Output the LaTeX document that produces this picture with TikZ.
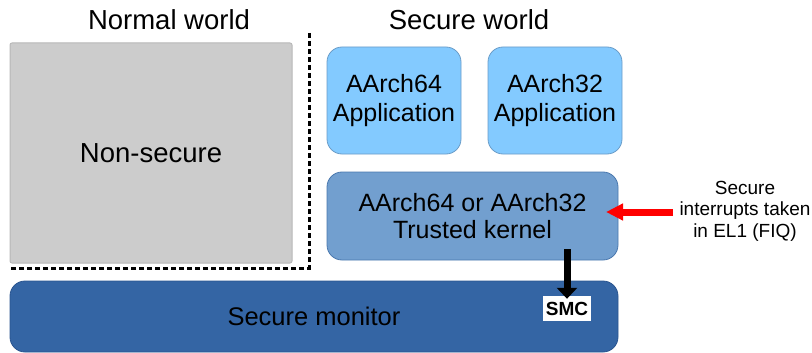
\documentclass[tikz,border=0pt]{standalone}
\usepackage{fontspec}
\setmainfont{Liberation Sans}
\usetikzlibrary{arrows.meta}
\definecolor{appblue}{HTML}{83CAFF}
\definecolor{appedge}{HTML}{6A9CC8}
\definecolor{kernblue}{HTML}{729FCF}
\definecolor{kernedge}{HTML}{4A78AE}
\definecolor{monblue}{HTML}{3465A4}
\definecolor{monedge}{HTML}{2A5590}
\definecolor{nsgray}{HTML}{CCCCCC}
\definecolor{nsedge}{HTML}{B8B8B8}
\tikzset{
  box/.style={rectangle, align=center, inner sep=0pt, text=black},
  appbox/.style={box, rounded corners=15pt, fill=appblue, draw=appedge, line width=0.8pt,
     minimum width=134pt, minimum height=107pt, font=\fontsize{25}{28.5}\selectfont},
  kernbox/.style={box, rounded corners=15pt, fill=kernblue, draw=kernedge, line width=0.8pt,
     minimum width=291pt, minimum height=88pt, font=\fontsize{25}{27.5}\selectfont},
  monbox/.style={box, rounded corners=15pt, fill=monblue, draw=monedge, line width=0.8pt,
     minimum width=608pt, minimum height=71pt, font=\fontsize{25.5}{28}\selectfont},
  nsbox/.style={box, rounded corners=2pt, fill=nsgray, draw=nsedge, line width=1pt,
     minimum width=282pt, minimum height=220pt, font=\fontsize{27.5}{32}\selectfont},
  title/.style={font=\fontsize{27.5}{32}\selectfont, inner sep=0pt},
  smcbox/.style={fill=white, inner sep=0pt, minimum width=48pt, minimum height=25pt,
     font=\fontsize{19}{22}\selectfont\bfseries},
  fiqtext/.style={align=center, inner sep=0pt, font=\fontsize{19}{21.5}\selectfont},
  worldline/.style={black, line width=3pt, dash pattern=on 5pt off 3pt},
}
\begin{document}
\begin{tikzpicture}[x=1pt,y=-1pt]
\useasboundingbox (0,0) rectangle (812,353);
% titles
\node[title] (nw) at (169,20) {Normal world};
\node[title] (sw) at (469,20) {Secure world};
% boxes
\node[nsbox] (ns) at (151,153) {Non-secure};
\node[appbox] (a64) at (394,100.5) {AArch64\\Application};
\node[appbox] (a32) at (555,100.5) {AArch32\\Application};
\node[kernbox] (kern) at (472.5,216) {AArch64 or AArch32\\Trusted kernel};
\node[monbox] (mon) at (314,316.5) {Secure monitor};
\node[smcbox] (smc) at (567,308.5) {SMC};
\node[fiqtext] (fiq) at (745,211) {Secure\\interrupts taken\\in EL1 (FIQ)};
% world separator
\coordinate (dtop) at (309,33);
\coordinate (dcorner) at (309,268);
\coordinate (dleft) at (10,268);
\draw[worldline] (dtop) -- (dcorner) -- (dleft);
% SMC arrow
\coordinate (smcstart) at (567,249);
\draw[line width=7pt, black, -{Triangle[width=20pt,length=11pt]}] (smcstart) -- ([yshift=-3pt]smc.north);
% interrupt arrow
\coordinate (fiqstart) at (673,212);
\coordinate (fiqend) at (606,212);
\draw[line width=7pt, red, -{Triangle[width=16pt,length=17pt]}] (fiqstart) -- (fiqend);
\end{tikzpicture}
\end{document}
